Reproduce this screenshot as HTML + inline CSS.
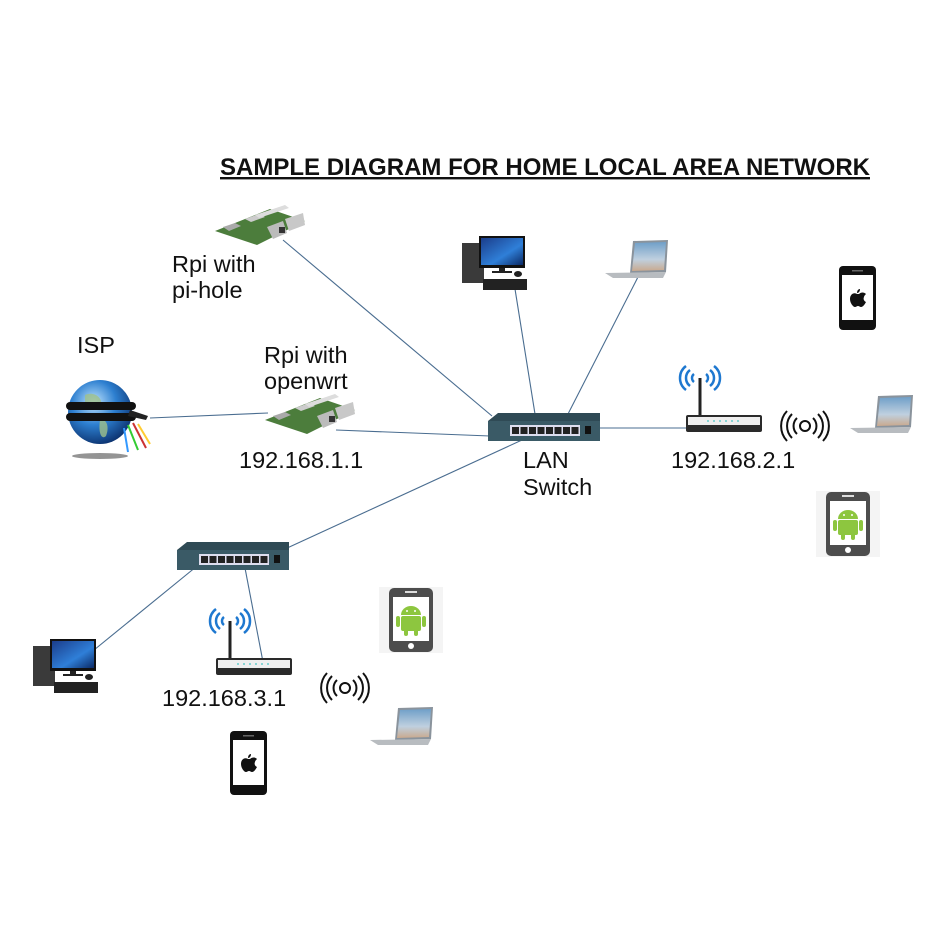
<!DOCTYPE html>
<html><head><meta charset="utf-8"><style>
html,body{margin:0;padding:0;background:#fff}
svg{display:block}
text{font-family:"Liberation Sans",sans-serif;fill:#111}
</style></head><body>
<svg width="950" height="950" viewBox="0 0 950 950" xmlns="http://www.w3.org/2000/svg">
<defs>
<linearGradient id="scr" x1="0" y1="0" x2="1" y2="1"><stop offset="0" stop-color="#1b3d8a"/><stop offset="0.6" stop-color="#2f7fd8"/><stop offset="1" stop-color="#0b2a66"/></linearGradient>
<linearGradient id="lap" x1="0" y1="0" x2="0" y2="1"><stop offset="0" stop-color="#6f9fc8"/><stop offset="0.6" stop-color="#bfd0df"/><stop offset="1" stop-color="#c9a98e"/></linearGradient>
<radialGradient id="globe" cx="0.4" cy="0.35" r="0.7"><stop offset="0" stop-color="#bfe4ff"/><stop offset="0.5" stop-color="#2d7fd0"/><stop offset="1" stop-color="#0a2e6a"/></radialGradient>
<symbol id="desk" overflow="visible">
 <rect x="0" y="7" width="22" height="40" fill="#3a3a3a"/>
 <rect x="17" y="0" width="46" height="32" fill="#111"/>
 <rect x="19" y="2" width="42" height="27" fill="url(#scr)"/>
 <rect x="37" y="32" width="6" height="4" fill="#222"/>
 <rect x="30" y="35" width="20" height="2" fill="#222"/>
 <rect x="21" y="43" width="44" height="11" fill="#222"/>
 <ellipse cx="56" cy="38" rx="4" ry="3" fill="#222"/>
</symbol>
<symbol id="laptop" overflow="visible">
 <polygon points="28,1 63,0 61,32 25,33" fill="#8a939c"/>
 <polygon points="30,3 61,2 59,30 27,31" fill="url(#lap)"/>
 <polygon points="0,33 61,32 58,38 8,38" fill="#b8bcc0"/>
</symbol>
<symbol id="rpi" overflow="visible">
 <polygon points="0,26 55,4 90,16 42,40" fill="#4c7d3c"/>
 <polygon points="8,22 20,18 26,21 14,26" fill="#aaa"/>
 <polygon points="30,14 44,9 50,12 36,17" fill="#ccc"/>
 <polygon points="40,10 70,0 74,3 44,13" fill="#ddd"/>
 <polygon points="52,22 68,16 72,28 58,34" fill="#bbb"/>
 <polygon points="70,14 88,8 90,20 74,26" fill="#c8c8c8"/>
 <rect x="64" y="22" width="6" height="6" fill="#333"/>
</symbol>
<symbol id="switch" overflow="visible">
 <polygon points="0,8 10,0 112,0 112,8" fill="#2f4a55"/>
 <rect x="0" y="8" width="112" height="20" fill="#3a5a66"/>
 <rect x="22" y="12" width="70" height="11" fill="#dde"/>
 <g fill="#222"><rect x="24" y="14" width="7" height="7"/><rect x="32.5" y="14" width="7" height="7"/><rect x="41" y="14" width="7" height="7"/><rect x="49.5" y="14" width="7" height="7"/><rect x="58" y="14" width="7" height="7"/><rect x="66.5" y="14" width="7" height="7"/><rect x="75" y="14" width="7" height="7"/><rect x="83.5" y="14" width="7" height="7"/></g>
 <rect x="97" y="13" width="6" height="8" fill="#111"/>
</symbol>
<symbol id="router" overflow="visible">
 <g fill="none" stroke="#1e78d0" stroke-width="2.5">
  <path d="M8,-8 a5,5 0 0 0 0,8"/><path d="M20,-8 a5,5 0 0 1 0,8"/>
  <path d="M4,-12 a10,10 0 0 0 0,16"/><path d="M24,-12 a10,10 0 0 1 0,16"/>
  <path d="M0,-16 a15,15 0 0 0 0,24"/><path d="M28,-16 a15,15 0 0 1 0,24"/>
 </g>
 <rect x="12.5" y="-4" width="3" height="38" fill="#222"/>
 <rect x="0" y="33" width="76" height="17" rx="2" fill="#2a2a2a"/>
 <rect x="2" y="35" width="72" height="8" fill="#eee"/>
 <g fill="#6cc"><circle cx="22" cy="39" r="1"/><circle cx="28" cy="39" r="1"/><circle cx="34" cy="39" r="1"/><circle cx="40" cy="39" r="1"/><circle cx="46" cy="39" r="1"/><circle cx="52" cy="39" r="1"/></g>
</symbol>
<symbol id="waves" overflow="visible">
 <g fill="none" stroke="#111" stroke-width="2">
  <circle cx="23" cy="15" r="5"/>
  <path d="M15,7 a11,11 0 0 0 0,16"/><path d="M31,7 a11,11 0 0 1 0,16"/>
  <path d="M10,3 a17,17 0 0 0 0,24"/><path d="M36,3 a17,17 0 0 1 0,24"/>
  <path d="M5,0 a22,22 0 0 0 0,30"/><path d="M41,0 a22,22 0 0 1 0,30"/>
 </g>
</symbol>
<symbol id="iphone" overflow="visible">
 <rect x="0" y="0" width="37" height="64" rx="4" fill="#111"/>
 <rect x="3" y="9" width="31" height="45" fill="#fff"/>
 <rect x="13" y="4" width="11" height="1.5" fill="#666"/>
 <path d="M18,28 c-3,-2 -7,0 -7,5 c0,4 3,8 5,8 c1,0 2,-1 3,-1 c1,0 2,1 3,1 c2,0 4,-3 5,-5 c-2,-1 -3,-3 -2,-5 c0,-1 1,-2 2,-3 c-2,-2 -5,-2 -7,0 z M18,27 c0,-2 1,-4 3,-4 c0,2 -1,4 -3,4z" fill="#111"/>
</symbol>
<symbol id="android" overflow="visible">
 <rect x="0" y="0" width="64" height="66" fill="#f4f4f4"/>
 <rect x="10" y="1" width="44" height="64" rx="5" fill="#4d4d4d"/>
 <rect x="14" y="10" width="36" height="44" fill="#fff"/>
 <rect x="26" y="4" width="12" height="2" fill="#ddd"/>
 <circle cx="32" cy="59" r="3" fill="#fff"/>
 <g fill="#8dc63f">
  <path d="M22,28 a10,9 0 0 1 20,0 z"/>
  <rect x="22" y="29" width="20" height="15" rx="2"/>
  <rect x="17" y="29" width="4" height="11" rx="2"/>
  <rect x="43" y="29" width="4" height="11" rx="2"/>
  <rect x="25" y="42" width="4" height="7" rx="2"/>
  <rect x="35" y="42" width="4" height="7" rx="2"/>
 </g>
 <circle cx="28" cy="24" r="1" fill="#fff"/><circle cx="36" cy="24" r="1" fill="#fff"/>
</symbol>
</defs>

<g stroke="#4a6d90" stroke-width="1.1" fill="none">
 <line x1="283" y1="240" x2="492" y2="416"/>
 <line x1="150" y1="418" x2="268" y2="413"/>
 <line x1="336" y1="430" x2="490" y2="436"/>
 <line x1="515" y1="289" x2="535" y2="414"/>
 <line x1="638" y1="277" x2="568" y2="414"/>
 <line x1="600" y1="428" x2="690" y2="428"/>
 <line x1="522" y1="440" x2="285" y2="549"/>
 <line x1="202" y1="562" x2="94" y2="650"/>
 <line x1="245" y1="568" x2="263" y2="662"/>
</g>

<text x="220" y="175" font-size="24" font-weight="bold" text-decoration="underline" textLength="650" lengthAdjust="spacingAndGlyphs">SAMPLE DIAGRAM FOR HOME LOCAL AREA NETWORK</text>

<use href="#rpi" x="215" y="205"/>
<use href="#rpi" x="265" y="394"/>
<use href="#desk" x="462" y="236"/>
<use href="#laptop" x="605" y="240"/>
<use href="#switch" x="488" y="413"/>
<use href="#router" x="686" y="382"/>
<use href="#waves" x="782" y="411"/>
<use href="#iphone" x="839" y="266"/>
<use href="#laptop" x="850" y="395"/>
<use href="#android" x="816" y="491"/>
<use href="#switch" x="177" y="542"/>
<use href="#desk" x="33" y="639"/>
<use href="#router" x="216" y="625"/>
<use href="#android" x="379" y="587"/>
<use href="#waves" x="322" y="673"/>
<use href="#laptop" x="370" y="707"/>
<use href="#iphone" x="230" y="731"/>

<ellipse cx="100" cy="456" rx="28" ry="3" fill="#666" opacity="0.7"/>
<circle cx="100" cy="412" r="32" fill="url(#globe)"/>
<path d="M85,395 c8,-4 18,2 16,10 c-3,6 -12,2 -16,-2z M100,420 c6,-2 10,6 6,16 c-4,4 -8,-2 -6,-16z" fill="#9fc08a" opacity="0.8"/>
<rect x="66" y="402" width="70" height="8" rx="4" fill="#111"/>
<rect x="66" y="413" width="70" height="8" rx="4" fill="#111"/>
<path d="M130,410 l18,6 l-2,4 l-18,-4z" fill="#222"/>
<g stroke-width="2"><line x1="128" y1="425" x2="138" y2="450" stroke="#3c3"/><line x1="133" y1="423" x2="146" y2="448" stroke="#c33"/><line x1="124" y1="428" x2="128" y2="452" stroke="#39f"/><line x1="138" y1="424" x2="150" y2="444" stroke="#fc3"/></g>

<g font-size="23.5">
<text x="172" y="272">Rpi with</text>
<text x="172" y="298">pi-hole</text>
<text x="77" y="353">ISP</text>
<text x="264" y="363">Rpi with</text>
<text x="264" y="389">openwrt</text>
<text x="239" y="468">192.168.1.1</text>
<text x="523" y="468">LAN</text>
<text x="523" y="495">Switch</text>
<text x="671" y="468">192.168.2.1</text>
<text x="162" y="706">192.168.3.1</text>
</g>
</svg>
</body></html>
